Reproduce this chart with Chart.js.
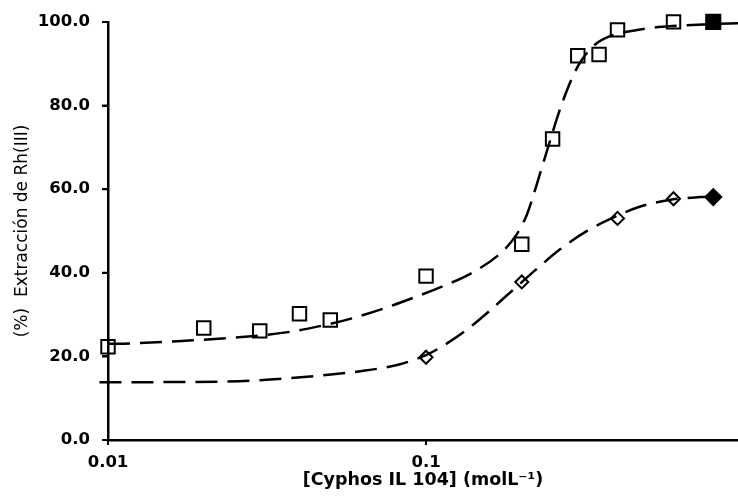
<!DOCTYPE html>
<html>
<head>
<meta charset="utf-8">
<script src="https://cdn.jsdelivr.net/npm/chart.js@4.4.1/dist/chart.umd.min.js"></script>
<style>
  html, body { margin: 0; padding: 0; background: #fff; overflow: hidden; }
  #wrap { width: 738px; height: 496px; }
</style>
</head>
<body>
<div id="wrap"><canvas id="chart"></canvas></div>
<script>
// measured points (mol/L vs % extraction)
const squareX = [0.01, 0.02, 0.03, 0.04, 0.05, 0.1, 0.2, 0.25, 0.3, 0.35, 0.4, 0.6];
const squareY = [22.3, 26.8, 26.1, 30.2, 28.7, 39.2, 46.8, 72.0, 91.9, 92.2, 98.1, 100.0];
const filledSquareX = [0.8];
const filledSquareY = [100.0];

const diamondX = [0.1, 0.2, 0.4, 0.6];
const diamondY = [19.8, 37.8, 53.0, 57.7];
const filledDiamondX = [0.8];
const filledDiamondY = [58.1];

// fitted curves
const upperCurveX = [0.01, 0.0117, 0.0171, 0.0251, 0.0368, 0.0481, 0.0585, 0.0732, 0.091, 0.1131, 0.1396, 0.1734, 0.1933, 0.2078, 0.2202, 0.2316, 0.2455, 0.2582, 0.2716, 0.2879, 0.3051, 0.34, 0.379, 0.4477, 0.5173, 0.5936, 0.7934, 0.957];
const upperCurveY = [23.0, 23.1, 23.7, 24.5, 25.8, 27.5, 29.1, 31.4, 34.0, 36.8, 40.0, 45.0, 49.3, 54.0, 59.8, 65.3, 71.6, 77.0, 81.8, 86.6, 90.3, 94.6, 96.6, 97.9, 98.6, 99.0, 99.5, 99.7];
const lowerCurveX = [0.0094, 0.0153, 0.0237, 0.0301, 0.0374, 0.051, 0.0643, 0.0817, 0.1, 0.1147, 0.1365, 0.1601, 0.1772, 0.2004, 0.225, 0.2639, 0.3208, 0.3988, 0.4744, 0.5936, 0.727, 0.793];
const lowerCurveY = [13.8, 13.85, 14.0, 14.3, 14.8, 15.7, 16.6, 18.0, 20.3, 22.8, 26.8, 31.2, 34.2, 37.8, 41.2, 45.6, 50.0, 53.6, 55.9, 57.5, 58.1, 58.2];

const xTicks = [0.01, 0.1];
const xTickLabels = ['0.01', '0.1'];
const yTicks = [0, 20, 40, 60, 80, 100];

const pts = (xs, ys) => xs.map((x, i) => ({ x: x, y: ys[i] }));

const FONT = '"DejaVu Sans", "Liberation Sans", Arial, sans-serif';
Chart.defaults.font.family = FONT;
Chart.defaults.color = '#000';

const curve = (xs, ys) => ({
  data: pts(xs, ys),
  showLine: true,
  borderColor: '#000',
  borderWidth: 2.5,
  borderDash: [22, 10],
  pointRadius: 0,
  cubicInterpolationMode: 'monotone',
  fill: false,
  clip: false
});

const marker = (xs, ys, style, r, fill) => ({
  data: pts(xs, ys),
  showLine: false,
  pointStyle: style,
  pointRadius: r,
  pointHoverRadius: r,
  pointBorderWidth: 2,
  pointBorderColor: '#000',
  pointBackgroundColor: fill ? '#000' : 'rgba(0,0,0,0)',
  clip: false
});

// outward tick marks at each scale tick
const tickMarks = {
  id: 'tickMarks',
  afterDraw(chart) {
    const ctx = chart.ctx;
    const xs = chart.scales.x, ys = chart.scales.y;
    ctx.save();
    ctx.strokeStyle = '#000';
    ctx.lineWidth = 2;
    ctx.beginPath();
    xs.ticks.forEach(t => {
      const px = xs.getPixelForValue(t.value);
      ctx.moveTo(px, xs.top);
      ctx.lineTo(px, xs.top + 5);
    });
    ys.ticks.forEach(t => {
      const py = ys.getPixelForValue(t.value);
      ctx.moveTo(ys.right, py);
      ctx.lineTo(ys.right - 6, py);
    });
    ctx.stroke();
    ctx.restore();
  }
};

new Chart(document.getElementById('chart'), {
  type: 'scatter',
  data: {
    datasets: [
      curve(upperCurveX, upperCurveY),
      curve(lowerCurveX, lowerCurveY),
      marker(squareX, squareY, 'rect', 9.5, false),
      marker(filledSquareX, filledSquareY, 'rect', 10, true),
      marker(diamondX, diamondY, 'rectRot', 6.5, false),
      marker(filledDiamondX, filledDiamondY, 'rectRot', 8, true)
    ]
  },
  plugins: [tickMarks],
  options: {
    responsive: true,
    maintainAspectRatio: false,
    animation: false,
    layout: { autoPadding: false, padding: { top: 19, right: 0, left: 0, bottom: 0 } },
    plugins: { legend: { display: false }, tooltip: { enabled: false } },
    scales: {
      x: {
        type: 'logarithmic',
        min: 0.01,
        max: 0.957,
        afterBuildTicks: s => { s.ticks = xTicks.map(v => ({ value: v })); },
        afterFit: s => { s.height = 56; },
        border: { display: true, color: '#000', width: 2.5 },
        grid: { drawOnChartArea: false, color: '#000', lineWidth: 2, tickLength: 5 },
        ticks: {
          padding: 8,
          maxRotation: 0,
          font: { size: 16.5, weight: 'bold' },
          callback: v => xTickLabels[xTicks.indexOf(v)]
        },
        title: {
          display: true,
          text: '[Cyphos IL 104] (molL⁻¹)',
          font: { size: 17.5, weight: 'bold' },
          padding: { top: 0, bottom: 5 }
        }
      },
      y: {
        min: 0,
        max: 100,
        afterBuildTicks: s => { s.ticks = yTicks.map(v => ({ value: v })); },
        afterFit: s => { s.width = 108; },
        border: { display: true, color: '#000', width: 2.5 },
        grid: { drawOnChartArea: false, color: '#000', lineWidth: 2, tickLength: 6 },
        ticks: {
          padding: 12,
          font: { size: 16.5, weight: 'bold' },
          callback: v => v.toFixed(1)
        },
        title: {
          display: true,
          text: '(%)  Extracción de Rh(III)',
          font: { size: 17 },
          padding: { top: 12, bottom: 0 }
        }
      }
    }
  }
});
</script>
</body>
</html>
